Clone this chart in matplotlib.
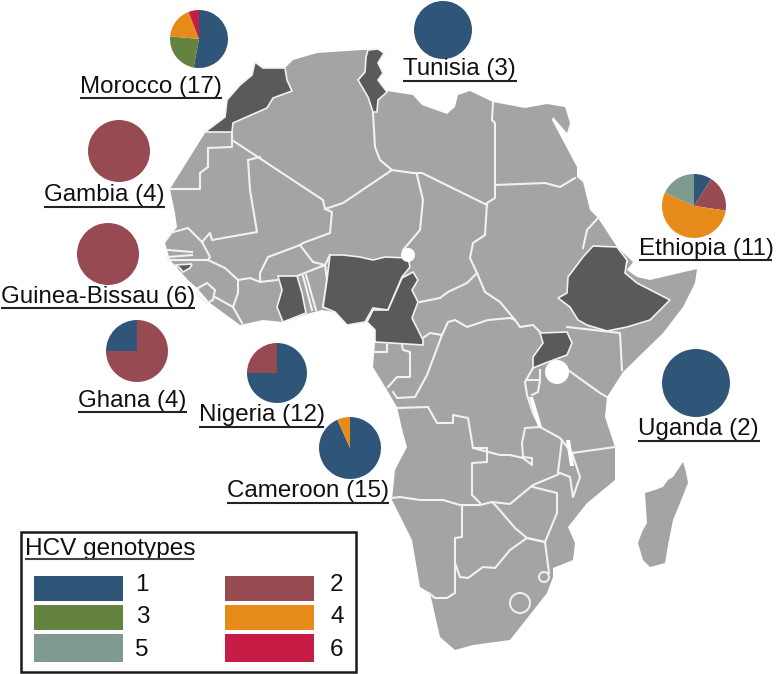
import matplotlib
matplotlib.use("Agg")
import matplotlib.pyplot as plt
from matplotlib.patches import Polygon, Rectangle, Circle

plt.rcParams['font.family'] = ['Liberation Sans', 'DejaVu Sans']
W, H = 778, 674

# ---- genotype palette ----
genotypes = ['1', '2', '3', '4', '5', '6']
geno_colors = ['#2F5579', '#974A52', '#64833F', '#E68A1A', '#7F9A8E', '#C61C45']

# ---- pies: label, counts per genotype in drawing order ----
labels = ['Morocco (17)', 'Tunisia (3)', 'Gambia (4)', 'Guinea-Bissau (6)', 'Ghana (4)',
          'Nigeria (12)', 'Cameroon (15)', 'Ethiopia (11)', 'Uganda (2)']
pie_genotypes = [['1', '3', '4', '6'], ['1'], ['2'], ['2'], ['2', '1'],
                 ['1', '2'], ['1', '4'], ['1', '2', '4', '5'], ['1']]
pie_counts = [[9, 4, 3, 1], [3], [4], [6], [3, 1], [9, 3], [14, 1], [1, 2, 6, 2], [2]]
pie_centers = [(199, 39), (443, 30), (119, 151), (108, 254), (137, 351),
               (277, 373), (350, 448), (694, 206), (696, 383)]
pie_radii = [29, 29, 31, 31, 31, 30, 31, 32, 34]
label_left = [80, 403, 44, 1, 78, 199, 227, 639, 638]
label_right = [222, 517, 165, 195, 187, 324, 389, 772, 760]
label_under = [98, 81, 207, 308, 412, 427, 503, 260, 441]

# ---- map geometry (picture coordinates) ----
mainland = [(255,62),(263,68),(285,68),(293,60),(317,53),(362,50),(368,50),(378,49),(384,53),(378,63),
            (383,73),(378,80),(387,91),(413,95),(422,105),(447,114),(455,107),(458,95),(470,91),(493,102),
            (525,108),(547,104),(565,107),(570,123),(567,133),(553,117),(552,120),(577,167),(577,177),
            (583,182),(590,210),(598,218),(617,247),(633,262),(627,270),(637,277),(650,280),(697,269),
            (695,283),(683,307),(663,333),(623,372),(607,397),(605,417),(615,447),(615,480),(587,503),
            (568,527),(575,543),(573,560),(553,568),(553,577),(547,593),(510,640),(473,645),(455,650),
            (440,637),(430,593),(420,587),(412,540),(392,500),(395,470),(407,447),(403,433),(397,407),
            (387,390),(373,367),(375,343),(375,330),(367,322),(347,325),(335,312),(322,310),(310,313),
            (283,322),(263,320),(240,325),(210,303),(197,288),(188,280),(170,260),(165,243),(177,227),
            (175,213),(170,189),(190,157),(205,133),(225,117),(227,100),(240,85),(252,75)]
madagascar = [(683,462),(686,472),(688,483),(680,503),(673,520),(668,545),(665,563),(650,567),(643,560),
              (638,543),(642,532),(647,523),(645,493),(655,490),(663,487),(668,480),(673,477)]

morocco = [(255,62),(263,68),(285,68),(287,80),(292,91),(273,98),(267,108),(233,123),(232,132),(205,132),
           (225,117),(227,100),(240,85),(252,75)]
tunisia = [(368,50),(378,49),(384,53),(378,63),(383,73),(378,80),(387,92),(378,100),(377,112),(373,112),
           (368,97),(358,80),(365,72),(366,57)]
ethiopia = [(593,246),(617,247),(627,260),(625,273),(637,283),(670,300),(650,320),(627,327),(607,331),
            (587,325),(578,320),(570,307),(558,298),(567,293),(568,277),(583,257)]
uganda = [(540,333),(567,332),(572,343),(567,355),(548,362),(533,368),(533,357),(543,343)]
nigeria = [(330,255),(343,255),(360,257),(373,260),(385,257),(408,258),(410,267),(402,277),(388,310),
           (373,308),(365,322),(347,325),(335,312),(323,307),(327,280)]
cameroon = [(413,272),(418,280),(412,290),(418,302),(412,318),(423,340),(423,345),(375,342),(375,330),
            (367,322),(373,310),(388,310),(402,278)]
ghana = [(278,276),(297,276),(302,293),(306,313),(283,322),(277,307),(282,290)]
guinea_bissau = [(175,265),(192,264),(190,268),(183,272),(180,268)]
dark_countries = [morocco, tunisia, ethiopia, uganda, nigeria, cameroon, ghana, guinea_bissau]

borders = [
    [(232,132),(232,147),(208,148),(208,167),(200,173),(200,189),(170,189)],
    [(232,140),(323,200),(325,209),(343,203),(392,170),(380,160),(375,147),(373,113)],
    [(248,160),(260,157)],
    [(248,160),(250,190),(257,232),(212,240),(210,233),(202,242),(188,228),(170,233)],
    [(202,242),(210,257),(208,260),(168,260)],
    [(168,250),(192,252)], [(168,257),(192,255)],
    [(208,260),(225,268),(238,280),(238,293),(233,307),(242,323)],
    [(198,288),(207,283),(215,290),(213,300),(207,303),(198,295),(198,288)],
    [(215,297),(233,307)],
    [(238,280),(250,278),(260,282),(277,280)],
    [(260,282),(260,273),(268,257),(287,250),(300,245),(313,262),(325,265),(307,272),(297,276)],
    [(303,276),(312,310)], [(306,275),(316,310)],
    [(325,265),(327,280),(323,307)],
    [(325,209),(332,212),(330,233),(303,243),(300,245)],
    [(325,265),(330,255)],
    [(392,170),(413,173),(422,173),(487,205)],
    [(417,175),(423,200),(420,230),(403,250)],
    [(493,102),(492,120),(495,123),(495,198),(487,203),(485,235),(473,243),(470,258),(477,273)],
    [(495,185),(545,183),(560,187),(575,178)],
    [(477,273),(467,283),(448,292),(440,298),(420,302)],
    [(477,273),(485,292),(500,302),(515,320),(520,327),(533,325),(540,332)],
    [(423,338),(430,333),(442,335),(448,322),(455,320),(467,327),(488,320),(510,318),(515,320)],
    [(598,218),(587,230),(583,248)],
    [(617,247),(627,262)],
    [(567,327),(620,333),(622,370)],
    [(402,345),(403,350),(410,352),(410,377),(397,377),(388,387)],
    [(375,352),(387,352),(387,345)],
    [(442,335),(427,375),(415,397),(397,398),(393,392)],
    [(397,408),(428,407),(437,423),(453,423),(453,415),(468,418),(473,448),(487,448),(487,462),(472,463),
     (472,495),(480,503)],
    [(473,448),(500,455),(510,455),(523,458),(532,465),(532,458),(523,457),(522,443),(525,428),(540,427),
     (560,438),(572,453),(615,447)],
    [(392,498),(400,497),(420,500),(443,500),(460,505),(480,505),(492,502),(510,504),(533,485),(557,475),(560,473)],
    [(562,440),(558,472)],
    [(560,473),(570,477),(573,497),(580,477),(572,453)],
    [(533,487),(557,493),(557,513),(545,542),(527,538),(515,528),(497,507),(492,502)],
    [(462,505),(462,537),(455,538),(455,593),(447,598),(435,598),(429,593)],
    [(455,563),(460,577),(468,578),(483,567),(495,568),(510,550),(527,538),(545,542),(549,573)],
    [(533,368),(525,382),(527,395),(533,413),(540,427)],
    [(527,380),(540,380),(538,392),(532,395)],
    [(540,370),(540,382)],
    [(568,370),(600,393),(607,397)],
]
lesotho = (520, 603, 10)
swaziland = (544, 577, 5)
lake_chad = (408, 255, 7)
lake_victoria = (557, 372, 12)
lake_tanganyika = [(529,397),(533,397),(542,427),(538,427)]
lake_malawi = [(566,440),(570,440),(574,466),(570,466)]

LAND = '#A4A4A4'
DARK = '#5A5A5A'

legend_title = 'HCV genotypes'
legend_order = ['1', '2', '3', '4', '5', '6']


def P(pts):
    return [(x, H - y) for x, y in pts]


fig = plt.figure(figsize=(W / 100, H / 100), dpi=100)
ax = fig.add_axes([0, 0, 1, 1])

for shape in (mainland, madagascar):
    ax.add_patch(Polygon(P(shape), closed=True, fc=LAND, ec='none', zorder=1))
for b in borders:
    xs, ys = zip(*P(b))
    ax.plot(xs, ys, color='#F2F2F2', lw=1.5, solid_joinstyle='round', zorder=2)
for cx, cy, r in (lesotho, swaziland):
    ax.add_patch(Circle((cx, H - cy), r, fc='none', ec='#F2F2F2', lw=1.4, zorder=2))
for shape in dark_countries:
    ax.add_patch(Polygon(P(shape), closed=True, fc=DARK, ec='#F2F2F2', lw=1.2, zorder=3))
for cx, cy, r in (lake_chad, lake_victoria):
    ax.add_patch(Circle((cx, H - cy), r, fc='white', ec='none', zorder=4))
for shape in (lake_tanganyika, lake_malawi):
    ax.add_patch(Polygon(P(shape), closed=True, fc='white', ec='none', zorder=4))

color_of = dict(zip(genotypes, geno_colors))
for name, gs, cnt, (cx, cy), r, x0, x1, yu in zip(labels, pie_genotypes, pie_counts, pie_centers,
                                                  pie_radii, label_left, label_right, label_under):
    wedges, _ = ax.pie(cnt, colors=[color_of[g] for g in gs], center=(cx, H - cy), radius=r,
                       startangle=90, counterclock=False, frame=True,
                       wedgeprops=dict(linewidth=0))
    for w in wedges:
        w.set_zorder(5)
    ax.text(x0, H - yu + 5.5, name, fontsize=17.4, color='#111111', ha='left', va='baseline', zorder=6)
    ax.plot([x0, x1], [H - yu, H - yu], color='#222222', lw=1.5, zorder=6, solid_capstyle='butt')

# ---- legend ----
ax.add_patch(Rectangle((21, H - 672), 335, 140, fc='white', ec='#1A1A1A', lw=1.8, zorder=7))
ax.text(25, H - 555, legend_title, fontsize=17.6, color='#111111', ha='left', va='baseline', zorder=8)
ax.plot([25, 194], [H - 559, H - 559], color='#444444', lw=1.5, zorder=8, solid_capstyle='butt')
leg_x = [34, 225, 34, 225, 34, 225]
leg_y = [576, 576, 605, 605, 634, 634]
leg_h = [25, 25, 25, 25, 28, 28]
leg_text_x = [135, 330, 136, 331, 135, 330]
leg_text_y = [585, 585, 617, 617, 650, 650]
for g, x, y, h, tx, ty in zip(legend_order, leg_x, leg_y, leg_h, leg_text_x, leg_text_y):
    ax.add_patch(Rectangle((x, H - y - h), 89, h, fc=color_of[g], ec='none', zorder=8))
    ax.text(tx, H - ty, g, fontsize=17.5, color='#111111', ha='left', va='center', zorder=8)

ax.set_xlim(0, W)
ax.set_ylim(0, H)
ax.set_aspect('auto')
ax.set_axis_off()
fig.savefig('out.png', dpi=100, facecolor='white')
